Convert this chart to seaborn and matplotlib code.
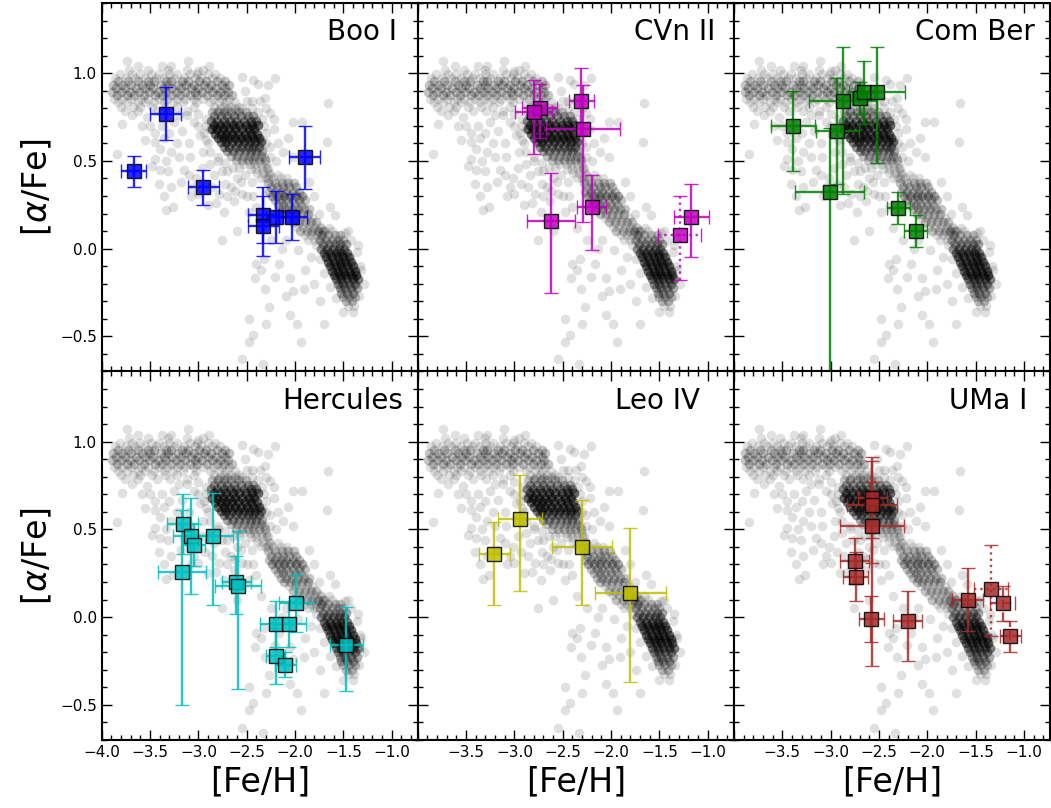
import matplotlib
matplotlib.use("Agg")
import matplotlib.pyplot as plt
import pandas as pd
import seaborn as sns
from matplotlib.ticker import MultipleLocator

# ---- Milky Way halo comparison sample:
# (afe, [feh values along that row], stars per spot)
halo_plateau = [
    (1.020, [-3.72, -3.52, -3.31, -3.12, -2.95], 1),
    (0.995, [-3.81, -3.69, -3.60, -3.49, -3.41, -3.30, -3.22, -3.09, -3.01, -2.90, -2.83], 1),
    (0.975, [-3.86, -3.75, -3.66, -3.55, -3.44, -3.36, -3.25, -3.15, -3.04, -2.97, -2.86, -2.78], 1),
    (0.955, [-3.83, -3.73, -3.62, -3.52, -3.46, -3.33, -3.28, -3.17, -3.11, -2.99, -2.92, -2.81,
             -2.72], 2),
    (0.935, [-3.88, -3.79, -3.70, -3.58, -3.50, -3.39, -3.31, -3.21, -3.13, -3.05, -2.94, -2.87,
             -2.76, -2.68], 2),
    (0.915, [-3.85, -3.76, -3.65, -3.55, -3.47, -3.36, -3.27, -3.18, -3.08, -3.00, -2.90, -2.82,
             -2.72], 2),
    (0.895, [-3.89, -3.80, -3.71, -3.61, -3.51, -3.42, -3.33, -3.23, -3.14, -3.04, -2.96, -2.86,
             -2.78, -2.69], 2),
    (0.875, [-3.84, -3.74, -3.67, -3.56, -3.45, -3.38, -3.28, -3.19, -3.09, -3.01, -2.91, -2.81,
             -2.73, -2.65], 2),
    (0.855, [-3.87, -3.79, -3.70, -3.59, -3.52, -3.41, -3.32, -3.22, -3.14, -3.05, -2.95, -2.85,
             -2.76, -2.68], 1),
    (0.835, [-3.83, -3.74, -3.63, -3.55, -3.46, -3.36, -3.26, -3.16, -3.02, -2.88, -2.79, -2.71,
             -2.62], 1),
    (0.810, [-3.80, -3.68, -3.60, -3.48, -3.35, -3.22, -3.05, -2.84, -2.74, -2.66, -2.58], 1),
    (0.785, [-3.76, -3.63, -3.43, -3.29, -3.12, -2.80, -2.70, -2.61], 1),
]

halo_blob = [
    (0.800, [-2.78, -2.70, -2.62, -2.55], 1),
    (0.780, [-2.86, -2.80, -2.73, -2.66, -2.58, -2.51], 2),
    (0.755, [-2.84, -2.77, -2.70, -2.63, -2.56, -2.49, -2.43], 3),
    (0.730, [-2.87, -2.81, -2.74, -2.67, -2.61, -2.53, -2.46, -2.40], 4),
    (0.705, [-2.84, -2.78, -2.71, -2.64, -2.58, -2.51, -2.45, -2.38], 6),
    (0.680, [-2.86, -2.81, -2.75, -2.68, -2.62, -2.55, -2.48, -2.42], 6),
    (0.655, [-2.83, -2.77, -2.71, -2.65, -2.59, -2.52, -2.46, -2.39], 6),
    (0.630, [-2.80, -2.74, -2.68, -2.62, -2.56, -2.50, -2.44, -2.37], 6),
    (0.605, [-2.77, -2.71, -2.65, -2.59, -2.53, -2.47, -2.41, -2.35], 5),
    (0.580, [-2.74, -2.68, -2.61, -2.55, -2.49, -2.43, -2.37], 4),
    (0.555, [-2.70, -2.64, -2.58, -2.52, -2.46, -2.40, -2.34], 3),
    (0.530, [-2.66, -2.60, -2.53, -2.47, -2.41, -2.35], 2),
    (0.505, [-2.61, -2.55, -2.49, -2.43, -2.37, -2.31], 2),
    (0.480, [-2.54, -2.47, -2.41, -2.35, -2.30], 1),
    (0.455, [-2.46, -2.40, -2.34, -2.29], 1),
    (0.430, [-2.39, -2.33, -2.27], 1),
    (0.405, [-2.35, -2.28], 1),
]

halo_band = [
    (0.420, [-2.26, -2.18], 1),
    (0.400, [-2.30, -2.23, -2.15, -2.08], 1),
    (0.375, [-2.28, -2.21, -2.14, -2.07, -2.01], 2),
    (0.350, [-2.25, -2.19, -2.12, -2.06, -1.99], 2),
    (0.325, [-2.27, -2.21, -2.15, -2.09, -2.02, -1.96], 2),
    (0.300, [-2.24, -2.18, -2.11, -2.05, -1.99, -1.93], 3),
    (0.275, [-2.21, -2.15, -2.09, -2.02, -1.96, -1.90], 2),
    (0.250, [-2.18, -2.12, -2.06, -2.00, -1.94], 2),
    (0.225, [-2.15, -2.09, -2.03, -1.97, -1.91, -1.86], 2),
    (0.200, [-2.11, -2.05, -1.99, -1.93, -1.87], 2),
    (0.175, [-2.06, -2.00, -1.94, -1.88, -1.82], 1),
    (0.150, [-2.02, -1.96, -1.90, -1.84, -1.78], 2),
    (0.125, [-1.98, -1.92, -1.86, -1.80, -1.74], 1),
    (0.100, [-1.95, -1.88, -1.82, -1.76, -1.71], 2),
    (0.075, [-1.90, -1.84, -1.78, -1.73], 1),
    (0.050, [-1.87, -1.80, -1.75], 1),
]

halo_metal_rich = [
    (0.120, [-1.73, -1.65], 1),
    (0.100, [-1.76, -1.69, -1.62], 1),
    (0.075, [-1.72, -1.66, -1.59, -1.53], 2),
    (0.050, [-1.74, -1.68, -1.62, -1.56, -1.50], 2),
    (0.025, [-1.71, -1.65, -1.59, -1.53, -1.47], 3),
    (0.000, [-1.73, -1.67, -1.61, -1.55, -1.49], 4),
    (-0.025, [-1.70, -1.64, -1.58, -1.52, -1.46], 5),
    (-0.050, [-1.68, -1.62, -1.56, -1.50, -1.44], 6),
    (-0.075, [-1.66, -1.60, -1.54, -1.48, -1.42], 6),
    (-0.100, [-1.64, -1.58, -1.52, -1.46, -1.40], 6),
    (-0.125, [-1.62, -1.56, -1.50, -1.44, -1.38], 6),
    (-0.150, [-1.60, -1.54, -1.48, -1.42, -1.37], 6),
    (-0.175, [-1.58, -1.52, -1.46, -1.40, -1.35], 5),
    (-0.200, [-1.56, -1.50, -1.44, -1.38], 4),
    (-0.225, [-1.54, -1.48, -1.42, -1.36], 3),
    (-0.250, [-1.52, -1.46, -1.40], 3),
    (-0.275, [-1.50, -1.44, -1.38], 2),
    (-0.300, [-1.47, -1.41], 2),
    (-0.325, [-1.45, -1.39], 1),
]

# single stars: (feh, afe)
halo_sparse = [
    (-3.74, 1.07), (-3.62, 1.04), (-3.38, 1.04), (-3.28, 1.04), (-3.11, 1.07), (-2.89, 1.04),
    (-3.00, 1.01), (-2.55, 0.98), (-2.43, 0.96), (-2.38, 0.94), (-2.28, 0.93), (-2.21, 0.975),
    (-2.52, 0.90), (-2.31, 0.86), (-2.26, 0.775), (-2.45, 0.84), (-3.69, 0.76), (-3.79, 0.71),
    (-3.84, 0.54), (-3.53, 0.75), (-3.45, 0.66), (-3.45, 0.61), (-3.36, 0.63), (-3.40, 0.57),
    (-3.45, 0.51), (-3.48, 0.47), (-3.34, 0.50), (-3.31, 0.44), (-3.17, 0.67), (-3.10, 0.60),
    (-3.09, 0.52), (-3.02, 0.40), (-3.05, 0.35), (-3.00, 0.31), (-2.93, 0.37), (-2.79, 0.31),
    (-2.72, 0.37), (-2.63, 0.27), (-2.55, 0.31), (-2.48, 0.21), (-2.73, 0.21), (-2.90, 0.25),
    (-3.33, 0.22), (-3.26, 0.24), (-3.41, 0.37), (-2.60, 0.10), (-2.76, 0.05), (-3.25, 0.72),
    (-3.20, 0.76), (-3.05, 0.72), (-2.98, 0.65), (-2.95, 0.55), (-2.88, 0.48), (-2.84, 0.42),
    (-2.70, 0.44), (-2.60, 0.40), (-2.52, 0.42), (-2.45, 0.38), (-3.12, 0.76), (-3.00, 0.77),
    (-2.92, 0.74), (-3.22, 0.60), (-3.15, 0.45), (-2.80, 0.52), (-2.66, 0.35), (-2.58, 0.46),
    (-3.55, 0.62), (-3.50, 0.70), (-3.38, 0.70), (-3.30, 0.66), (-3.28, 0.55), (-3.20, 0.52),
    (-3.18, 0.38), (-3.10, 0.42), (-3.08, 0.30), (-2.96, 0.46), (-2.90, 0.60), (-2.86, 0.35),
    (-2.82, 0.26), (-2.76, 0.44), (-2.70, 0.30), (-2.62, 0.33), (-2.56, 0.38), (-2.50, 0.30),
    (-2.44, 0.30), (-2.40, 0.24), (-3.36, 0.30), (-3.28, 0.35), (-3.40, 0.45), (-3.58, 0.70),
    (-3.00, 0.70), (-2.94, 0.66), (-2.88, 0.68),
    (-2.92, 0.70), (-2.92, 0.62), (-2.88, 0.55), (-2.80, 0.50), (-2.72, 0.49), (-2.64, 0.46),
    (-2.34, 0.62), (-2.32, 0.70), (-2.38, 0.78), (-2.45, 0.80), (-2.50, 0.84),
    (-1.78, 0.02), (-1.74, -0.06), (-1.70, -0.14), (-1.64, -0.22), (-1.58, -0.28), (-1.33, -0.10),
    (-1.36, -0.02), (-1.42, 0.05), (-1.48, 0.09),
    (-2.40, -0.09), (-2.35, -0.12), (-2.41, -0.17), (-2.31, -0.23), (-2.21, -0.16), (-2.05, -0.17),
    (-2.02, -0.24), (-2.09, -0.27), (-1.91, -0.23), (-2.27, -0.33), (-2.48, -0.40), (-2.43, -0.49),
    (-2.48, -0.53), (-2.30, -0.43), (-2.05, -0.38), (-1.98, -0.43), (-1.94, -0.53), (-1.70, -0.43),
    (-1.74, -0.30), (-2.14, 0.00), (-2.09, 0.05), (-2.32, -0.06), (-2.17, -0.09), (-1.97, -0.01),
    (-1.90, -0.12), (-2.55, -0.63), (-2.33, -0.66), (-1.80, -0.20), (-1.84, -0.05), (-2.25, 0.05),
    (-2.35, 0.12), (-1.66, 0.83), (-1.67, 0.61), (-2.07, 0.63), (-2.02, 0.72), (-1.93, 0.72),
    (-2.02, 0.52), (-2.12, 0.55), (-2.18, 0.60), (-2.22, 0.68), (-1.29, -0.20), (-1.32, -0.12),
    (-1.35, 0.02), (-1.45, 0.10), (-1.59, 0.19), (-1.64, 0.24), (-1.75, 0.20), (-1.80, 0.30),
    (-1.86, 0.38), (-1.34, -0.27), (-1.40, -0.36), (-1.50, -0.36), (-2.30, 0.60), (-2.26, 0.52),
    (-2.34, 0.74), (-2.30, 0.80), (-2.30, 0.66), (-2.26, 0.58), (-2.20, 0.50), (-2.32, 0.52),
    (-2.28, 0.46), (-2.22, 0.74), (-2.36, 0.84),
]

# ---- ultra-faint dwarf stars
galaxies = ["Boo I", "CVn II", "Com Ber", "Hercules", "Leo IV", "UMa I"]

boo_feh = [-3.67, -3.34, -2.95, -2.33, -2.33, -2.20, -2.03, -1.90]
boo_afe = [0.44, 0.77, 0.35, 0.19, 0.13, 0.18, 0.18, 0.52]
boo_feh_err = [0.13, 0.16, 0.16, 0.16, 0.16, 0.10, 0.15, 0.16]
boo_afe_lo = [0.09, 0.15, 0.10, 0.16, 0.17, 0.15, 0.13, 0.18]
boo_afe_hi = [0.09, 0.15, 0.10, 0.16, 0.17, 0.15, 0.13, 0.18]

cvn_feh = [-2.74, -2.80, -2.31, -2.29, -2.62, -2.20, -1.17, -1.29]
cvn_afe = [0.80, 0.78, 0.84, 0.68, 0.16, 0.24, 0.18, 0.08]
cvn_feh_err = [0.18, 0.19, 0.13, 0.38, 0.25, 0.15, 0.18, 0.22]
cvn_afe_lo = [0.17, 0.24, 0.19, 0.53, 0.41, 0.25, 0.23, 0.26]
cvn_afe_hi = [0.14, 0.18, 0.19, 0.25, 0.27, 0.18, 0.19, 0.22]

com_feh = [-3.39, -3.01, -2.93, -2.87, -2.70, -2.65, -2.52, -2.30, -2.12]
com_afe = [0.70, 0.32, 0.67, 0.84, 0.86, 0.89, 0.89, 0.23, 0.10]
com_feh_err = [0.23, 0.36, 0.22, 0.35, 0.08, 0.10, 0.29, 0.12, 0.12]
com_afe_lo = [0.26, 1.20, 0.30, 0.53, 0.09, 0.18, 0.40, 0.09, 0.09]
com_afe_hi = [0.20, 0.37, 0.30, 0.31, 0.09, 0.18, 0.26, 0.09, 0.09]

her_feh = [-3.16, -3.08, -3.05, -3.17, -2.85, -2.61, -2.59, -1.99, -2.20, -2.06, -2.20, -2.10, -1.47]
her_afe = [0.53, 0.46, 0.41, 0.26, 0.46, 0.20, 0.18, 0.08, -0.04, -0.04, -0.22, -0.27, -0.16]
her_feh_err = [0.16, 0.18, 0.12, 0.25, 0.21, 0.15, 0.24, 0.18, 0.16, 0.17, 0.10, 0.11, 0.17]
her_afe_lo = [0.17, 0.33, 0.12, 0.76, 0.39, 0.18, 0.59, 0.165, 0.13, 0.13, 0.16, 0.07, 0.26]
her_afe_hi = [0.17, 0.22, 0.12, 0.35, 0.25, 0.15, 0.31, 0.165, 0.13, 0.13, 0.16, 0.07, 0.22]

leo_feh = [-3.21, -2.94, -2.30, -1.80]
leo_afe = [0.36, 0.56, 0.40, 0.14]
leo_feh_err = [0.16, 0.23, 0.31, 0.37]
leo_afe_lo = [0.29, 0.41, 0.33, 0.51]
leo_afe_hi = [0.18, 0.25, 0.27, 0.37]

uma_feh = [-2.57, -2.57, -2.57, -2.75, -2.74, -2.58, -2.20, -1.58, -1.34, -1.22, -1.14]
uma_afe = [0.68, 0.64, 0.52, 0.32, 0.23, -0.01, -0.02, 0.10, 0.16, 0.08, -0.11]
uma_feh_err = [0.15, 0.26, 0.33, 0.15, 0.13, 0.13, 0.15, 0.16, 0.18, 0.13, 0.11]
uma_afe_lo = [0.23, 0.33, 0.80, 0.13, 0.14, 0.13, 0.23, 0.18, 0.27, 0.10, 0.09]
uma_afe_hi = [0.23, 0.25, 0.25, 0.13, 0.14, 0.13, 0.17, 0.18, 0.25, 0.10, 0.09]

stars = {
    "Boo I": (boo_feh, boo_afe, boo_feh_err, boo_afe_lo, boo_afe_hi),
    "CVn II": (cvn_feh, cvn_afe, cvn_feh_err, cvn_afe_lo, cvn_afe_hi),
    "Com Ber": (com_feh, com_afe, com_feh_err, com_afe_lo, com_afe_hi),
    "Hercules": (her_feh, her_afe, her_feh_err, her_afe_lo, her_afe_hi),
    "Leo IV": (leo_feh, leo_afe, leo_feh_err, leo_afe_lo, leo_afe_hi),
    "UMa I": (uma_feh, uma_afe, uma_feh_err, uma_afe_lo, uma_afe_hi),
}

# ---- styling
colors = {"Boo I": "#0000ff", "CVn II": "#bf00bf", "Com Ber": "#008000",
          "Hercules": "#00bfbf", "Leo IV": "#bfbf00", "UMa I": "#a52a2a"}
error_styles = {"CVn II": {7: ":"}, "UMa I": {8: ":", 9: "--", 10: "--"}}
label_x = {"Boo I": 0.934, "CVn II": 0.94, "Com Ber": 0.953,
           "Hercules": 0.954, "Leo IV": 0.893, "UMa I": 0.93}


def minus(v):
    return f"{v:.1f}".replace("-", "\u2212")


def main():
    sns.set_style("ticks")
    plt.rcParams.update({
        "font.family": ["DejaVu Sans"],
        "text.color": "black", "axes.labelcolor": "black",
        "xtick.direction": "in", "ytick.direction": "in",
        "xtick.top": True, "ytick.right": True,
        "xtick.major.size": 7, "ytick.major.size": 7,
        "xtick.minor.size": 3.5, "ytick.minor.size": 3.5,
        "xtick.major.width": 1.0, "ytick.major.width": 1.0,
        "xtick.minor.width": 1.0, "ytick.minor.width": 1.0,
        "axes.linewidth": 1.5,
        "axes.edgecolor": "black",
        "xtick.color": "black", "ytick.color": "black",
        "xtick.labelsize": 11, "ytick.labelsize": 11,
    })

    rows = []
    for part in (halo_plateau, halo_blob, halo_band, halo_metal_rich):
        for afe, fehs, n in part:
            rows += [(feh, afe, n) for feh in fehs]
    rows += [(feh, afe, 1) for feh, afe in halo_sparse]
    halo = pd.DataFrame(rows, columns=["feh", "afe", "n"])
    halo = halo.loc[halo.index.repeat(halo["n"])].reset_index(drop=True)

    fig, axes = plt.subplots(2, 3, figsize=(10.51, 8.08), dpi=100)
    fig.subplots_adjust(left=0.0968, right=0.999, bottom=0.0842, top=0.9963, wspace=0, hspace=0)

    xticks = [-4.0, -3.5, -3.0, -2.5, -2.0, -1.5, -1.0]
    yticks = [-0.5, 0.0, 0.5, 1.0]

    for k, name in enumerate(galaxies):
        ax = axes.flat[k]
        row, col = divmod(k, 3)

        sns.scatterplot(data=halo, x="feh", y="afe", color="black", alpha=0.12, s=48,
                        linewidth=0, ax=ax, legend=False, zorder=1)

        feh, afe, feh_err, lo, hi = stars[name]
        styles = error_styles.get(name, {})
        for i in range(len(feh)):
            eb = ax.errorbar(feh[i], afe[i], xerr=[[feh_err[i]], [feh_err[i]]], yerr=[[lo[i]], [hi[i]]],
                             fmt="s", color=colors[name], mfc=colors[name], mec="black", mew=1.0,
                             ms=10, elinewidth=1.7, capsize=5, capthick=1.7, alpha=0.85, zorder=3)
            if i in styles:
                for lc in eb[2]:
                    lc.set_linestyle(styles[i])

        ax.set_xlim(-4.0, -0.73)
        ax.set_ylim(-0.7, 1.4)
        ax.set_xticks(xticks)
        ax.set_yticks(yticks)
        ax.xaxis.set_minor_locator(MultipleLocator(0.1))
        ax.yaxis.set_minor_locator(MultipleLocator(0.1))

        if row == 1:
            labels = [minus(v) for v in xticks]
            if col > 0:
                labels[0] = ""
            ax.set_xticklabels(labels)
            ax.set_xlabel("[Fe/H]", fontsize=24)
        else:
            ax.tick_params(labelbottom=False)
            ax.set_xlabel("")
        if col == 0:
            ax.set_yticklabels([minus(v) for v in yticks])
            ax.set_ylabel(r"[$\alpha$/Fe]", fontsize=24)
        else:
            ax.tick_params(labelleft=False)
            ax.set_ylabel("")

        ax.text(label_x[name], 0.958, name, transform=ax.transAxes, ha="right", va="top", fontsize=20)

    fig.savefig("out.png", dpi=100)
    plt.close(fig)


if __name__ == "__main__":
    main()
